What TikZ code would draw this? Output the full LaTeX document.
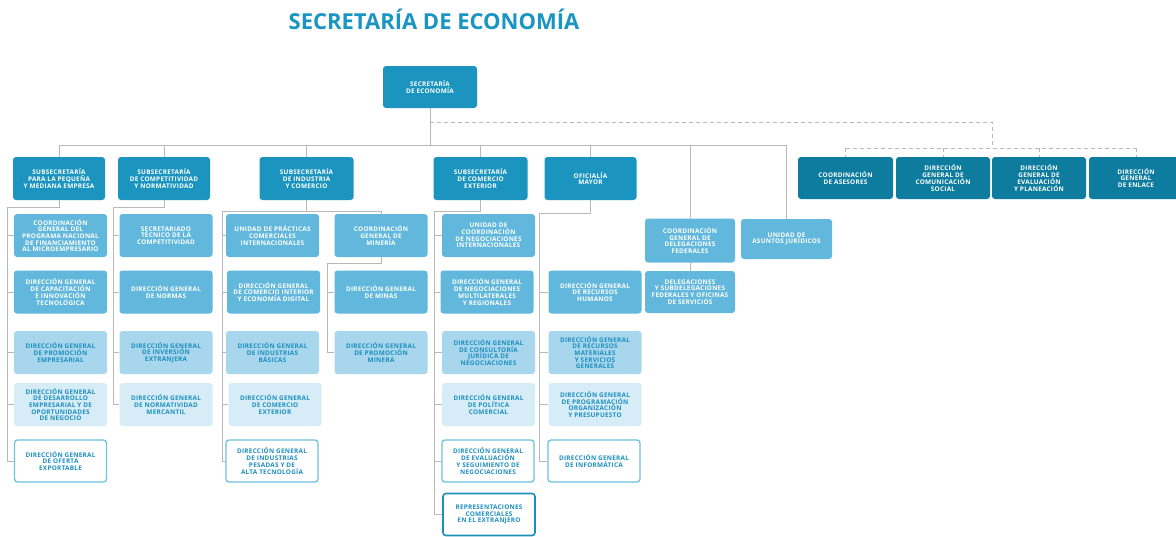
\documentclass[tikz,border=0pt]{standalone}
\usepackage{fontspec}
\setmainfont{Open Sans}
\newfontfamily\boxfont[LetterSpace=4]{Open Sans}
\usepackage{tikz}
\usetikzlibrary{positioning, calc}
\usepackage{xcolor}
\definecolor{SETitle}{HTML}{1895C2}
\definecolor{SEMain}{HTML}{1B95C0}
\definecolor{SEDark}{HTML}{0E7C9E}
\definecolor{SELight}{HTML}{62B8DC}
\definecolor{SEPale}{HTML}{A8D6EC}
\definecolor{SEFaint}{HTML}{D6ECF6}
\definecolor{SEText}{HTML}{1C8FC0}
\definecolor{SELine}{HTML}{B8B8B8}
\definecolor{SEOpen}{HTML}{6EC1E0}
\definecolor{SEStrong}{HTML}{1E8DB8}
\tikzset{
    % Node styles - rounded boxes of the chart
    orgbox/.style={
        rectangle,
        rounded corners=3pt,
        minimum width=93pt,
        minimum height=43pt,
        inner sep=1pt,
        align=center,
        font=\boxfont\bfseries\fontsize{6.4}{6.7}\selectfont
    },
    secbox/.style={
        orgbox,
        fill=SEMain,
        text=white
    },
    asesorbox/.style={
        orgbox,
        fill=SEDark,
        text=white
    },
    unitbox/.style={
        orgbox,
        fill=SELight,
        text=white
    },
    paleunit/.style={
        orgbox,
        fill=SEPale,
        text=SEText
    },
    faintunit/.style={
        orgbox,
        fill=SEFaint,
        text=SEText
    },
    openunit/.style={
        orgbox,
        fill=white,
        draw=SEOpen,
        line width=1.3pt,
        minimum width=92pt,
        minimum height=42pt,
        text=SEText
    },
    strongunit/.style={
        openunit,
        draw=SEStrong,
        line width=1.6pt
    },
    % Line styles
    link/.style={
        draw=SELine,
        line width=0.8pt
    },
    dashlink/.style={
        draw=SELine,
        line width=0.8pt,
        dash pattern=on 4pt off 3pt
    }
}

\begin{document}
\begin{tikzpicture}[x=1pt, y=-1pt]
    \fill[white] (0,0) rectangle (1176,536);
    \useasboundingbox (0,0) rectangle (1176,536);

    \node[text=SETitle, font=\bfseries\fontsize{22}{24}\selectfont] (title) at (434,19) {SECRETARÍA DE ECONOMÍA};

    % top level
    \node[secbox, minimum width=94pt, minimum height=42pt] (root) at (430,87) {SECRETARÍA\\DE ECONOMÍA};

    \node[secbox, minimum width=92pt] (sub1) at (59,178.5) {SUBSECRETARÍA\\PARA LA PEQUEÑA\\Y MEDIANA EMPRESA};
    \node[secbox, minimum width=92pt] (sub2) at (164,178.5) {SUBSECRETARÍA\\DE COMPETITIVIDAD\\Y NORMATIVIDAD};
    \node[secbox, minimum width=94pt] (sub3) at (306.5,178.5) {SUBSECRETARÍA\\DE INDUSTRIA\\Y COMERCIO};
    \node[secbox, minimum width=94pt] (sub4) at (480.5,178.5) {SUBSECRETARÍA\\DE COMERCIO\\EXTERIOR};
    \node[secbox, minimum width=92pt] (sub5) at (590.5,178.5) {OFICIALÍA\\MAYOR};

    \node[asesorbox, minimum width=95pt, minimum height=42pt] (asesores) at (845.5,178) {COORDINACIÓN\\DE ASESORES};
    \node[asesorbox, minimum width=94pt, minimum height=42pt] (comunica) at (943,178) {DIRECCIÓN\\GENERAL DE\\COMUNICACIÓN\\SOCIAL};
    \node[asesorbox, minimum width=94pt, minimum height=42pt] (evalua) at (1039,178) {DIRECCIÓN\\GENERAL DE\\EVALUACIÓN\\Y PLANEACIÓN};
    \node[asesorbox, minimum width=94pt, minimum height=42pt] (enlace) at (1136,178) {DIRECCIÓN\\GENERAL\\DE ENLACE};

    % pequena y mediana empresa
    \node[unitbox] (pronafim) at (60.5,235.5) {COORDINACIÓN\\GENERAL DEL\\PROGRAMA NACIONAL\\DE FINANCIAMIENTO\\AL MICROEMPRESARIO};
    \node[unitbox] (capacita) at (60.5,292) {DIRECCIÓN GENERAL\\DE CAPACITACIÓN\\E INNOVACIÓN\\TECNOLÓGICA};
    \node[paleunit] (promoemp) at (60.5,352.5) {DIRECCIÓN GENERAL\\DE PROMOCIÓN\\EMPRESARIAL};
    \node[faintunit] (desarrollo) at (60.5,404.5) {DIRECCIÓN GENERAL\\DE DESARROLLO\\EMPRESARIAL Y DE\\OPORTUNIDADES\\DE NEGOCIO};
    \node[openunit] (oferta) at (60.5,461) {DIRECCIÓN GENERAL\\DE OFERTA\\EXPORTABLE};

    % competitividad y normatividad
    \node[unitbox] (secretariado) at (166,235.5) {SECRETARIADO\\TÉCNICO DE LA\\COMPETITIVIDAD};
    \node[unitbox] (normas) at (166,292) {DIRECCIÓN GENERAL\\DE NORMAS};
    \node[paleunit] (inversion) at (166,352.5) {DIRECCIÓN GENERAL\\DE INVERSIÓN\\EXTRANJERA};
    \node[faintunit] (mercantil) at (166,404.5) {DIRECCIÓN GENERAL\\DE NORMATIVIDAD\\MERCANTIL};

    % industria y comercio
    \node[unitbox] (practicas) at (272.5,235.5) {UNIDAD DE PRÁCTICAS\\COMERCIALES\\INTERNACIONALES};
    \node[unitbox] (interior) at (273.5,292) {DIRECCIÓN GENERAL\\DE COMERCIO INTERIOR\\Y ECONOMÍA DIGITAL};
    \node[paleunit] (basicas) at (272.5,352.5) {DIRECCIÓN GENERAL\\DE INDUSTRIAS\\BÁSICAS};
    \node[faintunit] (comext) at (275,404.5) {DIRECCIÓN GENERAL\\DE COMERCIO\\EXTERIOR};
    \node[openunit] (pesadas) at (272,461) {DIRECCIÓN GENERAL\\DE INDUSTRIAS\\PESADAS Y DE\\ALTA TECNOLOGÍA};

    \node[unitbox] (mineria) at (381,235.5) {COORDINACIÓN\\GENERAL DE\\MINERÍA};
    \node[unitbox] (minas) at (381,292) {DIRECCIÓN GENERAL\\DE MINAS};
    \node[paleunit] (promominera) at (381,352.5) {DIRECCIÓN GENERAL\\DE PROMOCIÓN\\MINERA};

    % comercio exterior
    \node[unitbox] (ucni) at (488.5,235.5) {UNIDAD DE\\COORDINACIÓN\\DE NEGOCIACIONES\\INTERNACIONALES};
    \node[unitbox] (multilat) at (487,292) {DIRECCIÓN GENERAL\\DE NEGOCIACIONES\\MULTILATERALES\\Y REGIONALES};
    \node[paleunit] (consultoria) at (488.5,352.5) {DIRECCIÓN GENERAL\\DE CONSULTORÍA\\JURÍDICA DE\\NEGOCIACIONES};
    \node[faintunit] (politica) at (488.5,404.5) {DIRECCIÓN GENERAL\\DE POLÍTICA\\COMERCIAL};
    \node[openunit] (seguimiento) at (488,461) {DIRECCIÓN GENERAL\\DE EVALUACIÓN\\Y SEGUIMIENTO DE\\NEGOCIACIONES};
    \node[strongunit] (represent) at (489,514.5) {REPRESENTACIONES\\COMERCIALES\\EN EL EXTRANJERO};

    % oficialia mayor
    \node[unitbox] (humanos) at (595,292) {DIRECCIÓN GENERAL\\DE RECURSOS\\HUMANOS};
    \node[paleunit] (materiales) at (595,352.5) {DIRECCIÓN GENERAL\\DE RECURSOS\\MATERIALES\\Y SERVICIOS\\GENERALES};
    \node[faintunit] (programa) at (595,404.5) {DIRECCIÓN GENERAL\\DE PROGRAMACIÓN\\ORGANIZACIÓN\\Y PRESUPUESTO};
    \node[openunit] (informatica) at (594,461) {DIRECCIÓN GENERAL\\DE INFORMÁTICA};

    % delegaciones y juridico
    \node[unitbox, minimum width=90pt, minimum height=44pt] (delegfed) at (690,240.5) {COORDINACIÓN\\GENERAL DE\\DELEGACIONES\\FEDERALES};
    \node[unitbox, minimum width=90pt, minimum height=42pt] (subdeleg) at (690,292) {DELEGACIONES\\Y SUBDELEGACIONES\\FEDERALES Y OFICINAS\\DE SERVICIOS};
    \node[unitbox, minimum width=91pt, minimum height=40pt] (juridicos) at (786.5,239) {UNIDAD DE\\ASUNTOS JURÍDICOS};

    % junction points
    \coordinate (bus) at (430,145);
    \coordinate (k1) at (7,207);
    \coordinate (k2) at (113,207);
    \coordinate (k3) at (222,211);
    \coordinate (k3b) at (327,263);
    \coordinate (k4) at (434,211);
    \coordinate (k5) at (539,213);
    \coordinate (dashA) at (430,122);
    \coordinate (dashB) at (992,122);
    \coordinate (dashC) at (992,148);

    % solid lines
    \draw[link] (root.south) -- (bus);
    \draw[link] (sub1.north) |- (juridicos.north |- bus) -- (juridicos.north);
    \foreach \n in {sub2, sub3, sub4, sub5, delegfed}
        \draw[link] (\n.north) -- (\n.north |- bus);
    \draw[link] (delegfed.south) -- (subdeleg.north);

    \draw[link] (sub1.south) |- (k1) |- (oferta.west);
    \foreach \n in {pronafim, capacita, promoemp, desarrollo}
        \draw[link] (k1 |- \n.west) -- (\n.west);

    \draw[link] (sub2.south) |- (k2) |- (mercantil.west);
    \foreach \n in {secretariado, normas, inversion}
        \draw[link] (k2 |- \n.west) -- (\n.west);

    \draw[link] (sub3.south) |- (k3) |- (pesadas.west);
    \draw[link] (k3) -| (mineria.north);
    \foreach \n in {practicas, interior, basicas, comext}
        \draw[link] (k3 |- \n.west) -- (\n.west);

    \draw[link] (mineria.south) |- (k3b) |- (promominera.west);
    \draw[link] (k3b |- minas.west) -- (minas.west);

    \draw[link] (sub4.south) |- (k4) |- (represent.west);
    \foreach \n in {ucni, multilat, consultoria, politica, seguimiento}
        \draw[link] (k4 |- \n.west) -- (\n.west);

    \draw[link] (sub5.south) |- (k5) |- (informatica.west);
    \foreach \n in {humanos, materiales, programa}
        \draw[link] (k5 |- \n.west) -- (\n.west);

    % dashed lines to the advisers
    \draw[dashlink] (dashA) -- (dashB) -- (dashC);
    \draw[dashlink] (asesores.north |- dashC) -- (enlace.north |- dashC);
    \foreach \n in {asesores, comunica, evalua, enlace}
        \draw[dashlink] (\n.north |- dashC) -- (\n.north);
\end{tikzpicture}
\end{document}
